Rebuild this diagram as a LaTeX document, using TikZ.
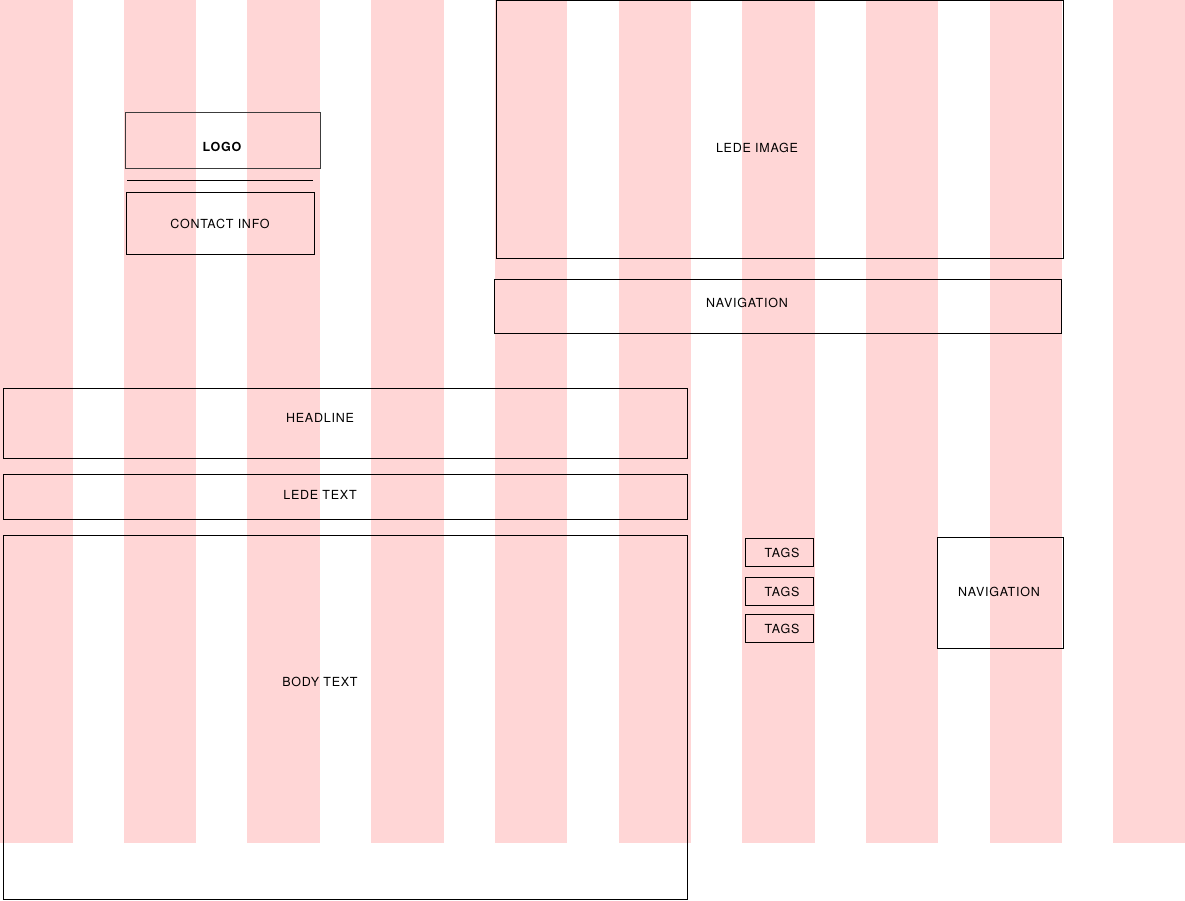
\documentclass[tikz,border=0pt]{standalone}
\usepackage{fontspec}
\setmainfont{TeX Gyre Heros}[LetterSpace=6]
\usepackage{tikz}
\usepackage{xcolor}
\definecolor{colpink}{RGB}{255,214,214}
\definecolor{logogray}{RGB}{60,60,60}

\begin{document}
\begin{tikzpicture}[x=1pt, y=-1pt, line width=1pt,
    label/.style={inner sep=0pt, font=\fontsize{12.5}{14}\selectfont}]
    \useasboundingbox (0,0) rectangle (1185,900);

    % Grid columns
    \foreach \c in {0,...,9}
        \fill[colpink] ({\c*123.7},0) rectangle ++(72.5,843);

    % Logo and contact block
    \draw[logogray] (125,112) rectangle (320,168);
    \node[label, font=\fontsize{12.5}{14}\selectfont\bfseries] (logo) at (222,146.5) {LOGO};
    \draw (127,180) -- (313,180);
    \draw (126,192) rectangle (314,254);
    \node[label] (contact) at (220,224) {CONTACT INFO};

    % Lede image and top navigation
    \draw (496.5,0.5) rectangle (1063,258);
    \node[label] (ledeimg) at (757,148) {LEDE IMAGE};
    \draw (494,279) rectangle (1061,333);
    \node[label] (navtop) at (747,303) {NAVIGATION};

    % Article column
    \draw (3,388) rectangle (687,458);
    \node[label] (headline) at (320,418) {HEADLINE};
    \draw (3,474) rectangle (687,519);
    \node[label] (ledetext) at (320,495) {LEDE TEXT};
    \draw (3,535) rectangle (687,899);
    \node[label] (body) at (320,682) {BODY TEXT};

    % Tags
    \foreach \t/\y in {a/538, b/577, c/614} {
        \draw (745,\y) rectangle ++(68,28);
        \node[label] (tag\t) at (782,\y+15) {TAGS};
    }

    % Side navigation
    \draw (937,537) rectangle (1063,648);
    \node[label] (navside) at (999,592) {NAVIGATION};

\end{tikzpicture}
\end{document}
